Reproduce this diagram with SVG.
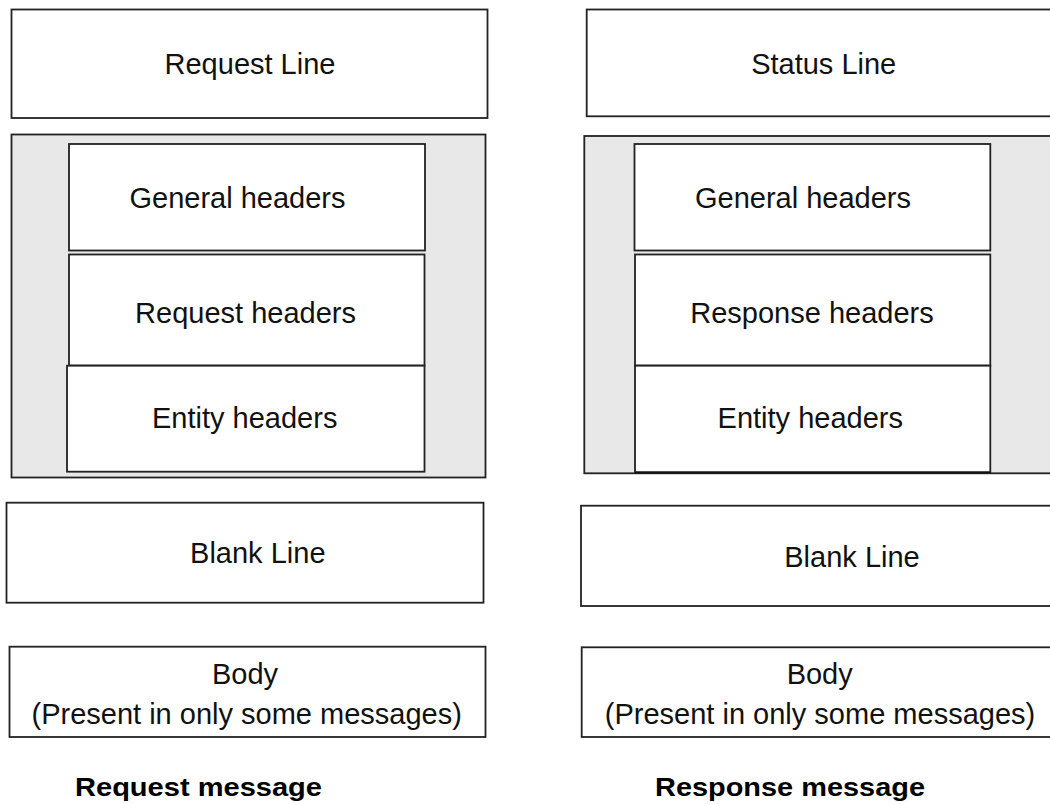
<svg xmlns="http://www.w3.org/2000/svg" width="1050" height="804" viewBox="0 0 1050 804">
<style>
.box{fill:#ffffff;stroke:#222222;stroke-width:1.8}
.grp{fill:#e8e8e8;stroke:#222222;stroke-width:1.8}
.t{font-family:"Liberation Sans",Arial,sans-serif;font-size:29px;fill:#111111;text-anchor:middle}
.cap{font-family:"Liberation Sans",Arial,sans-serif;font-size:26px;font-weight:bold;fill:#000000;text-anchor:middle}
</style>
<rect x="0" y="0" width="1050" height="804" fill="#ffffff"/>
<g id="request-message">
  <g id="req-request-line"><rect class="box" x="11.5" y="9.5" width="476" height="108.5"/><text class="t" x="250" y="74">Request Line</text></g>
  <g id="req-headers">
    <rect class="grp" x="11.5" y="134.5" width="474" height="343"/>
    <g id="req-general-headers"><rect class="box" x="69" y="144" width="356" height="106.5"/><text class="t" x="237.5" y="207.5">General headers</text></g>
    <g id="req-request-headers"><rect class="box" x="69" y="254.5" width="355.5" height="111"/><text class="t" x="245.5" y="322.7">Request headers</text></g>
    <g id="req-entity-headers"><rect class="box" x="67" y="365.7" width="357.5" height="106"/><text class="t" x="244.7" y="428.3">Entity headers</text></g>
  </g>
  <g id="req-blank-line"><rect class="box" x="6.5" y="502.7" width="477" height="100"/><text class="t" x="257.8" y="563.3">Blank Line</text></g>
  <g id="req-body"><rect class="box" x="9.5" y="646.7" width="476" height="90.3"/><text class="t" x="245" y="684.3">Body</text><text class="t" x="246.7" y="724">(Present in only some messages)</text></g>
  <text class="cap" x="198.5" y="796" textLength="247" lengthAdjust="spacingAndGlyphs">Request message</text>
</g>
<g id="response-message">
  <g id="res-status-line"><rect class="box" x="586.7" y="9.5" width="470" height="106.8"/><text class="t" x="823.7" y="74">Status Line</text></g>
  <g id="res-headers">
    <rect class="grp" x="584.3" y="136" width="470" height="337.3"/>
    <g id="res-general-headers"><rect class="box" x="634.5" y="144" width="355.8" height="106.5"/><text class="t" x="803" y="207.5">General headers</text></g>
    <g id="res-response-headers"><rect class="box" x="635" y="254.5" width="355.3" height="111"/><text class="t" x="812" y="322.7">Response headers</text></g>
    <g id="res-entity-headers"><rect class="box" x="635" y="365.7" width="355.3" height="106.5"/><line x1="635" y1="472.4" x2="990.3" y2="472.4" stroke="#111111" stroke-width="1.5"/><text class="t" x="810.3" y="428.3">Entity headers</text></g>
  </g>
  <g id="res-blank-line"><rect class="box" x="581" y="505.7" width="475" height="100.3"/><text class="t" x="852" y="566.7">Blank Line</text></g>
  <g id="res-body"><rect class="box" x="581.7" y="647.3" width="475" height="89.7"/><text class="t" x="819.7" y="684.3">Body</text><text class="t" x="820" y="724">(Present in only some messages)</text></g>
  <text class="cap" x="790" y="796" textLength="270" lengthAdjust="spacingAndGlyphs">Response message</text>
</g>
<g id="connectors"/>
</svg>
